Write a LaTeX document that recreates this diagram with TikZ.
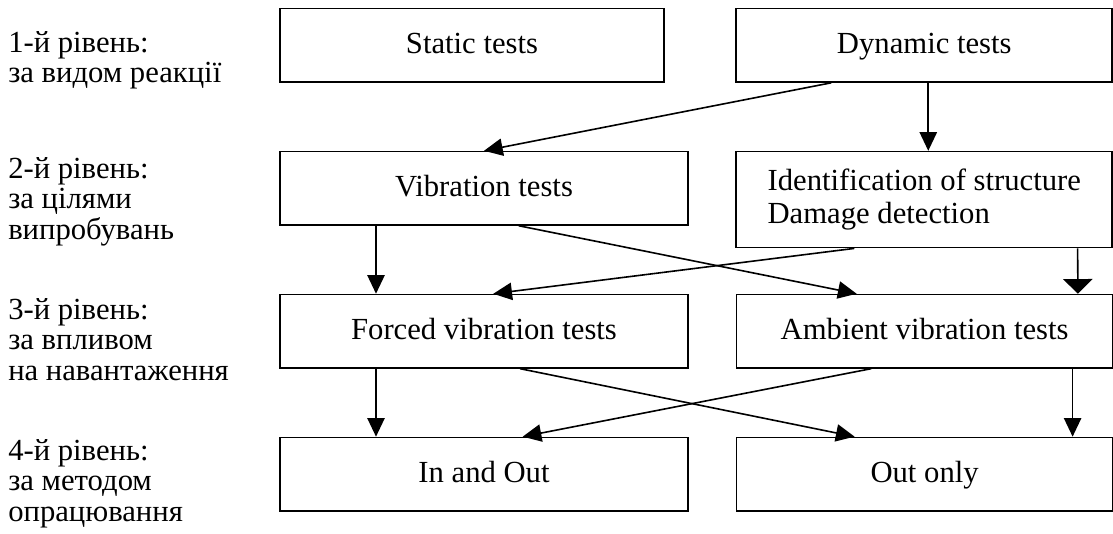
\documentclass[tikz,border=0pt]{standalone}
\usepackage{fontspec}
\setmainfont{Liberation Serif}
\usetikzlibrary{positioning,arrows.meta,calc}

\begin{document}
\begin{tikzpicture}[
    node distance=51pt,
    every node/.style={font=\fontsize{23}{25}\selectfont},
    frame/.style={draw, line width=1.2pt, inner sep=0pt},
    box/.style={frame, minimum height=55pt, text height=16pt, text depth=4pt, align=center},
    lbox/.style={box, minimum width=306pt},
    rbox/.style={box, minimum width=282pt},
    lvl/.style={align=left, anchor=north west, inner sep=0pt, yshift=16.5pt,
                font=\fontsize{23}{23}\selectfont},
    arr/.style={-{Triangle[length=14pt,width=13pt]}, line width=1.2pt},
    bighead/.style={-{Triangle[length=11pt,width=22pt]}}
]
    \useasboundingbox (0,0) rectangle (834.75pt,-399.75pt);

    \node[box, minimum width=288pt] (static) at (354pt,-34pt) {Static tests};
    \node[rbox, right=53pt of static] (dynamic) {Dynamic tests};
    \node[lbox, below=of static.south west, anchor=north west] (vibr) {Vibration tests};
    \node[frame, below=of dynamic, minimum width=282pt, minimum height=72pt, align=left] (ident)
        {Identification of structure\\Damage detection};
    \node[lbox, below=of vibr] (forced) {Forced vibration tests};
    \node[rbox, right=35.25pt of forced] (ambient) {Ambient vibration tests};
    \node[lbox, below=of forced] (inout) {In and Out};
    \node[rbox, below=of ambient] (outonly) {Out only};

    \node[lvl] (lvl1) at (6pt,-39.75pt) {1-й рівень:\\за видом реакції};
    \node[lvl] (lvl2) at (6pt,-134.25pt) {2-й рівень:\\за цілями\\випробувань};
    \node[lvl] (lvl3) at (6pt,-240pt) {3-й рівень:\\за впливом\\на навантаження};
    \node[lvl] (lvl4) at (6pt,-345.75pt) {4-й рівень:\\за методом\\опрацювання};

    \draw[arr] ([xshift=-69.75pt]dynamic.south) -- (vibr.north);
    \draw[arr] ([xshift=3pt]dynamic.south) -- ([xshift=3pt]ident.north);
    \draw[arr] ([xshift=-81pt]vibr.south) -- ([xshift=-81pt]forced.north);
    \draw[arr] ([xshift=26pt]vibr.south) -- ([xshift=-51pt]ambient.north);
    \draw[arr, bighead] ([xshift=115pt]ident.south) -- ([xshift=115pt]ambient.north);
    \draw[arr] ([xshift=-52.5pt]ident.south) -- ([xshift=7pt]forced.north);
    \draw[arr] ([xshift=-81pt]forced.south) -- ([xshift=-81pt]inout.north);
    \draw[arr] ([xshift=27pt]forced.south) -- ([xshift=-52.5pt]outonly.north);
    \draw[arr] ([xshift=-40pt]ambient.south) -- ([xshift=29pt]inout.north);
    \draw[arr] ([xshift=111pt]ambient.south) -- ([xshift=111pt]outonly.north);
\end{tikzpicture}
\end{document}
